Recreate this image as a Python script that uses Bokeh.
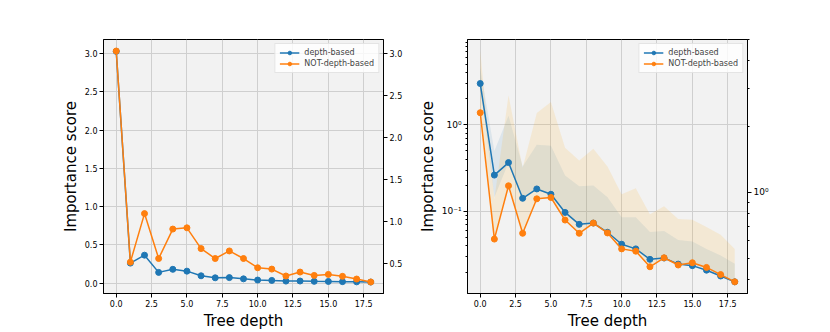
from bokeh.plotting import figure
from bokeh.models import (Range1d, LinearAxis, LogAxis, LogScale, FixedTicker,
                          PrintfTickFormatter, CustomJSTickFormatter, Legend, LegendItem)
from bokeh.layouts import row
from bokeh.embed import file_html
from bokeh.resources import INLINE

depth = list(range(19))
x_ticks = [0.0, 2.5, 5.0, 7.5, 10.0, 12.5, 15.0, 17.5]

# left panel (linear, NOT-depth-based on twin axis)
left_depth_based = [3.03, 0.263, 0.367, 0.142, 0.182, 0.158, 0.0975, 0.071, 0.0735, 0.0575,
                    0.0419, 0.037, 0.028, 0.029, 0.0247, 0.0237, 0.021, 0.018, 0.0154]
left_not_depth_based = [3.03, 0.52, 1.097, 0.563, 0.913, 0.928, 0.681, 0.563, 0.653, 0.563,
                        0.453, 0.437, 0.355, 0.402, 0.362, 0.374, 0.351, 0.319, 0.284]
left_y_ticks = [0.0, 0.5, 1.0, 1.5, 2.0, 2.5, 3.0]
left_twin_ticks = [0.5, 1.0, 1.5, 2.0, 2.5, 3.0]

# right panel (log)
right_depth_based = [3.0, 0.263, 0.367, 0.142, 0.182, 0.158, 0.0975, 0.071, 0.0735, 0.0575,
                     0.0419, 0.037, 0.028, 0.029, 0.0247, 0.0237, 0.021, 0.018, 0.0154]
right_depth_based_low = [3.0, 0.146, 0.367, 0.142, 0.182, 0.158, 0.0975, 0.071, 0.0735, 0.0575,
                         0.0419, 0.037, 0.028, 0.029, 0.0247, 0.0237, 0.021, 0.018, 0.0154]
right_depth_based_high = [4.5, 0.5, 1.27, 0.33, 0.59, 0.575, 0.26, 0.195, 0.2, 0.146,
                          0.086, 0.086, 0.058, 0.0595, 0.047, 0.045, 0.037, 0.031, 0.025]
right_not_depth_based = [1.38, 0.048, 0.198, 0.056, 0.14, 0.145, 0.0796, 0.056, 0.0735, 0.0565,
                         0.037, 0.0348, 0.023, 0.0292, 0.0241, 0.0256, 0.0226, 0.0187, 0.0154]
right_not_depth_based_high = [7.2, 0.138, 2.2, 0.32, 1.37, 1.83, 0.545, 0.387, 0.53, 0.33,
                              0.158, 0.185, 0.093, 0.115, 0.082, 0.08, 0.066, 0.054, 0.037]
right_major_ticks = [0.1, 1.0]
right_minor_ticks = [0.02, 0.03, 0.04, 0.05, 0.06, 0.07, 0.08, 0.09,
                     0.2, 0.3, 0.4, 0.5, 0.6, 0.7, 0.8, 0.9,
                     2, 3, 4, 5, 6, 7, 8, 9]
right_twin_major = [1.0]
right_twin_minor = [0.4, 0.5, 0.6, 0.7, 0.8, 0.9, 2, 3, 4, 5]

BLUE = "#1f77b4"
ORANGE = "#ff7f0e"
BAND_ORANGE = "#ffa500"
FONT = "DejaVu Sans"
TICK_FS = "8px"
LABEL_FS = "15px"


def style_axis(ax, minor=False):
    ax.axis_line_color = "black"
    ax.axis_line_width = 1
    ax.major_tick_line_color = "black"
    ax.major_tick_out = 4
    ax.major_tick_in = 0
    if minor:
        ax.minor_tick_line_color = "black"
        ax.minor_tick_out = 2
        ax.minor_tick_in = 0
    else:
        ax.minor_tick_out = 0
        ax.minor_tick_in = 0
    ax.major_label_text_font = FONT
    ax.major_label_text_font_size = TICK_FS
    ax.major_label_text_color = "black"
    ax.major_label_standoff = 2
    ax.axis_label_text_font = FONT
    ax.axis_label_text_font_size = LABEL_FS
    ax.axis_label_text_font_style = "normal"
    ax.axis_label_text_color = "black"
    ax.axis_label_standoff = 2


def style_fig(p):
    p.background_fill_color = "#f2f2f2"
    p.border_fill_color = "white"
    p.outline_line_color = "black"
    p.outline_line_width = 1
    for g in (p.xgrid, p.ygrid):
        g.grid_line_color = "#cfcfcf"
        g.grid_line_width = 1


def make_legend(p, items):
    lg = Legend(items=items, location="top_right")
    lg.label_text_font = FONT
    lg.label_text_font_size = "8px"
    lg.label_height = 9
    lg.glyph_height = 9
    lg.glyph_width = 20
    lg.label_standoff = 5
    lg.spacing = 2
    lg.padding = 4
    lg.margin = 4
    lg.border_line_color = "#cccccc"
    lg.border_line_width = 1
    lg.background_fill_color = "white"
    lg.background_fill_alpha = 0.8
    p.add_layout(lg)


# ---------------- left figure ----------------
p1 = figure(width=407, height=332, output_backend="svg", toolbar_location=None,
            x_range=Range1d(-0.9, 18.9), y_range=Range1d(-0.134, 3.185),
            min_border_left=103, min_border_right=24, min_border_top=39, min_border_bottom=37)
style_fig(p1)
p1.extra_y_ranges = {"twin": Range1d(0.147, 3.167)}

p1.xaxis.ticker = FixedTicker(ticks=x_ticks)
p1.xaxis.formatter = PrintfTickFormatter(format="%.1f")
p1.yaxis.ticker = FixedTicker(ticks=left_y_ticks)
p1.yaxis.formatter = PrintfTickFormatter(format="%.1f")
p1.xaxis.axis_label = "Tree depth"
p1.yaxis.axis_label = "Importance score"
style_axis(p1.xaxis[0])
style_axis(p1.yaxis[0])

tw1 = LinearAxis(y_range_name="twin", ticker=FixedTicker(ticks=left_twin_ticks),
                 formatter=PrintfTickFormatter(format="%.1f"))
style_axis(tw1)
p1.add_layout(tw1, "right")

b_line1 = p1.line(depth, left_depth_based, line_color=BLUE, line_width=1.5)
b_pts1 = p1.scatter(depth, left_depth_based, size=6, fill_color=BLUE, line_color=BLUE)
o_line1 = p1.line(depth, left_not_depth_based, line_color=ORANGE, line_width=1.5, y_range_name="twin")
o_pts1 = p1.scatter(depth, left_not_depth_based, size=6, fill_color=ORANGE, line_color=ORANGE,
                    y_range_name="twin")
make_legend(p1, [LegendItem(label="depth-based", renderers=[b_line1, b_pts1]),
                 LegendItem(label="NOT-depth-based", renderers=[o_line1, o_pts1])])

# ---------------- right figure ----------------
p2 = figure(width=380, height=332, output_backend="svg", toolbar_location=None,
            y_axis_type="log",
            x_range=Range1d(-0.9, 18.9), y_range=Range1d(0.0113, 9.67),
            min_border_left=60, min_border_right=40, min_border_top=39, min_border_bottom=37)
style_fig(p2)
p2.extra_y_ranges = {"twin": Range1d(0.345, 5.0)}
p2.extra_y_scales = {"twin": LogScale()}

log_fmt = CustomJSTickFormatter(code="""
if (Math.abs(tick - 1) < 1e-6) { return "10\u2070"; }
if (Math.abs(tick - 0.1) < 1e-7) { return "10\u207b\u00b9"; }
if (Math.abs(tick - 0.01) < 1e-8) { return "10\u207b\u00b2"; }
return "";
""")

p2.xaxis.ticker = FixedTicker(ticks=x_ticks)
p2.xaxis.formatter = PrintfTickFormatter(format="%.1f")
p2.yaxis.ticker = FixedTicker(ticks=right_major_ticks, minor_ticks=right_minor_ticks)
p2.yaxis.formatter = log_fmt
p2.xaxis.axis_label = "Tree depth"
p2.yaxis.axis_label = "Importance score"
style_axis(p2.xaxis[0])
style_axis(p2.yaxis[0], minor=True)
p2.yaxis.major_label_text_font_size = "9px"

tw2 = LogAxis(y_range_name="twin", ticker=FixedTicker(ticks=right_twin_major, minor_ticks=right_twin_minor),
              formatter=log_fmt)
style_axis(tw2, minor=True)
tw2.major_label_text_font_size = "9px"
p2.add_layout(tw2, "right")

p2.varea(x=depth, y1=right_depth_based_low, y2=right_depth_based_high,
         fill_color=BLUE, fill_alpha=0.1)
p2.varea(x=depth, y1=right_not_depth_based, y2=right_not_depth_based_high,
         fill_color=BAND_ORANGE, fill_alpha=0.12)

b_line2 = p2.line(depth, right_depth_based, line_color=BLUE, line_width=1.5)
b_pts2 = p2.scatter(depth, right_depth_based, size=6, fill_color=BLUE, line_color=BLUE)
o_line2 = p2.line(depth, right_not_depth_based, line_color=ORANGE, line_width=1.5)
o_pts2 = p2.scatter(depth, right_not_depth_based, size=6, fill_color=ORANGE, line_color=ORANGE)
make_legend(p2, [LegendItem(label="depth-based", renderers=[b_line2, b_pts2]),
                 LegendItem(label="NOT-depth-based", renderers=[o_line2, o_pts2])])

layout = row(p1, p2)
with open("out.html", "w", encoding="utf-8") as f:
    f.write(file_html(layout, INLINE))
